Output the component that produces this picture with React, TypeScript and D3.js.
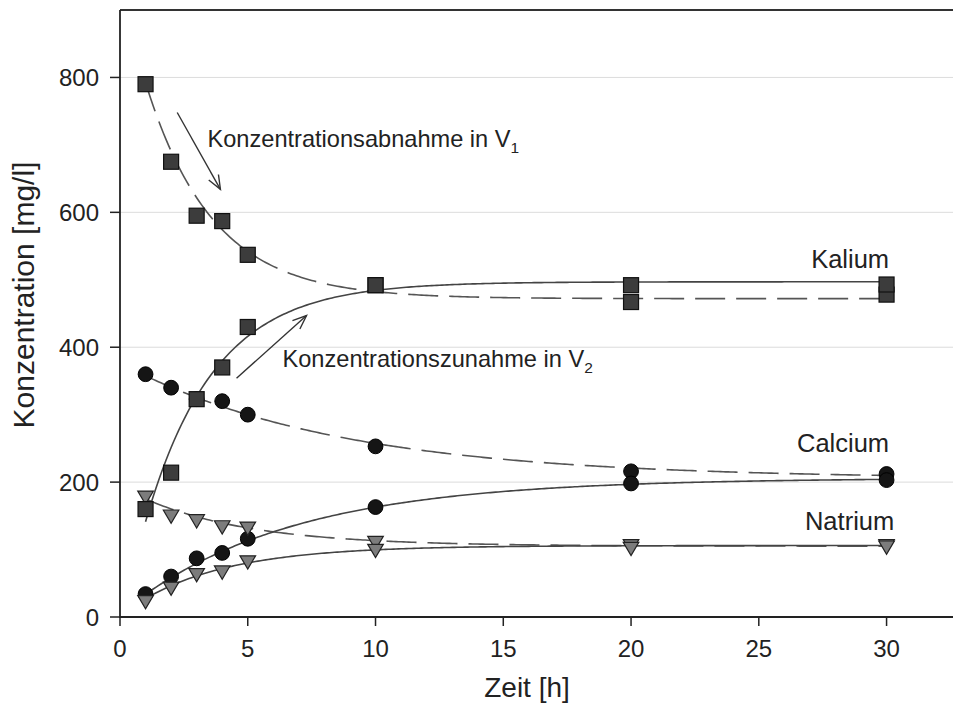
import React from "react";
import * as d3 from "d3";

// ---- Data ----
const times = [1, 2, 3, 4, 5, 10, 20, 30];
const kaliumV1 = [790, 675, 595, 587, 537, 492, 467, 478];
const kaliumV2 = [160, 214, 323, 370, 430, 492, 492, 493];
const calciumV1 = [360, 340, 323, 320, 300, 253, 216, 212];
const calciumV2 = [34, 60, 87, 95, 116, 163, 198, 203];
const natriumV1 = [178, 150, 143, 134, 132, 111, 106, 106];
const natriumV2 = [23, 43, 63, 67, 82, 99, 102, 104];

// Fitted exponential curves: [asymptote, amplitude, rate]  y = c + a*exp(-k t)
const kaliumFitV1 = [472, 468, 0.38];
const kaliumFitV2 = [497, -515, 0.37];
const calciumFitV1 = [205, 172, 0.119];
const calciumFitV2 = [206, -201, 0.154];
const natriumFitV1 = [105, 89, 0.238];
const natriumFitV2 = [106, -104, 0.278];
const fitRange = [1, 30];

const xTicks = [0, 5, 10, 15, 20, 25, 30];
const yTicks = [0, 200, 400, 600, 800];
const yGrid = [200, 400, 600, 800];

const seriesLabels = ["Kalium", "Calcium", "Natrium"];
const labelValues = [517, 245, 129];
const labelX = [30.1, 30.1, 30.3];

// annotation arrows in data coordinates: [x1, y1, x2, y2]
const arrowDown = [2.24, 748, 3.93, 634];
const arrowUp = [4.56, 354, 7.3, 447];

const FONT = "'Liberation Sans', Arial, Helvetica, sans-serif";

export default function App() {
  const W = 954;
  const H = 717;
  const x = d3.scaleLinear().domain([0, 32.6]).range([120, 953]);
  const y = d3.scaleLinear().domain([0, 900]).range([617, 10]);

  const samples = d3.range(fitRange[0], fitRange[1] + 0.001, 0.1);
  const fitLine = (p: number[]) =>
    d3
      .line<number>()
      .x((t) => x(t))
      .y((t) => y(p[0] + p[1] * Math.exp(-p[2] * t)))
      .curve(d3.curveLinear)(samples) as string;

  const solidStyle = { fill: "none", stroke: "#444", strokeWidth: 1.6 };
  const dashStyle = {
    fill: "none",
    stroke: "#555",
    strokeWidth: 1.6,
    strokeDasharray: "30 11",
  };

  const square = (vals: number[], key: string) =>
    vals.map((v, i) => (
      <rect
        key={key + i}
        x={x(times[i]) - 7.5}
        y={y(v) - 7.5}
        width={15}
        height={15}
        fill="#3c3c3c"
        stroke="#111"
        strokeWidth={1.2}
      />
    ));
  const circle = (vals: number[], key: string) =>
    vals.map((v, i) => (
      <circle key={key + i} cx={x(times[i])} cy={y(v)} r={7.4} fill="#151515" stroke="#000" strokeWidth={1} />
    ));
  const tri = (vals: number[], key: string) =>
    vals.map((v, i) => {
      const cx = x(times[i]);
      const cy = y(v);
      const s = 7.8;
      const pts = `${cx - s},${cy - s * 0.75} ${cx + s},${cy - s * 0.75} ${cx},${cy + s * 0.95}`;
      return <polygon key={key + i} points={pts} fill="#7c7c7c" stroke="#222" strokeWidth={1.2} />;
    });

  const arrow = (a: number[], key: string) => {
    const x1 = x(a[0]);
    const y1 = y(a[1]);
    const x2 = x(a[2]);
    const y2 = y(a[3]);
    const ang = Math.atan2(y2 - y1, x2 - x1);
    const L = 15;
    const spread = 0.38;
    const hx1 = x2 - L * Math.cos(ang - spread);
    const hy1 = y2 - L * Math.sin(ang - spread);
    const hx2 = x2 - L * Math.cos(ang + spread);
    const hy2 = y2 - L * Math.sin(ang + spread);
    return (
      <g key={key} stroke="#333" strokeWidth={1.4} fill="none">
        <line x1={x1} y1={y1} x2={x2} y2={y2} />
        <polyline points={`${hx1},${hy1} ${x2},${y2} ${hx2},${hy2}`} />
      </g>
    );
  };

  return (
    <div>
      <style>{`body{margin:0}`}</style>
      <svg width={W} height={H} style={{ display: "block", background: "#fff" }} fontFamily={FONT}>
        {/* grid */}
        {yGrid.map((v) => (
          <line key={"g" + v} x1={x(0)} x2={x(32.6)} y1={y(v)} y2={y(v)} stroke="#dcdcdc" strokeWidth={1} />
        ))}

        {/* fitted curves */}
        <path d={fitLine(kaliumFitV1)} style={dashStyle} />
        <path d={fitLine(calciumFitV1)} style={dashStyle} />
        <path d={fitLine(natriumFitV1)} style={dashStyle} />
        <path d={fitLine(kaliumFitV2)} style={solidStyle} />
        <path d={fitLine(calciumFitV2)} style={solidStyle} />
        <path d={fitLine(natriumFitV2)} style={solidStyle} />

        {/* markers */}
        {circle(calciumV1, "c1")}
        {circle(calciumV2, "c2")}
        {tri(natriumV1, "n1")}
        {tri(natriumV2, "n2")}
        {square(kaliumV1, "k1")}
        {square(kaliumV2, "k2")}

        {/* arrows */}
        {arrow(arrowDown, "a1")}
        {arrow(arrowUp, "a2")}

        {/* annotations */}
        <text x={207.5} y={147} fontSize={23.6} fill="#222">
          Konzentrationsabnahme in V
          <tspan fontSize={15.5} dy={6}>1</tspan>
        </text>
        <text x={282.5} y={367} fontSize={23.6} fill="#222">
          Konzentrationszunahme in V
          <tspan fontSize={15.5} dy={6}>2</tspan>
        </text>

        {/* series labels */}
        {seriesLabels.map((s, i) => (
          <text key={s} x={x(labelX[i])} y={y(labelValues[i])} fontSize={25.5} textAnchor="end" fill="#222">
            {s}
          </text>
        ))}

        {/* axes */}
        <line x1={x(0)} x2={x(32.6)} y1={y(0)} y2={y(0)} stroke="#222" strokeWidth={1.8} />
        <line x1={x(0)} x2={x(32.6)} y1={y(900)} y2={y(900)} stroke="#333" strokeWidth={1.8} />
        <line x1={x(0)} x2={x(0)} y1={y(0) + 1} y2={y(900)} stroke="#222" strokeWidth={1.8} />

        {xTicks.map((t) => (
          <g key={"xt" + t}>
            <line x1={x(t)} x2={x(t)} y1={y(0)} y2={y(0) + 9} stroke="#222" strokeWidth={1.5} />
            <text x={x(t)} y={657} fontSize={24} textAnchor="middle" fill="#222">
              {t}
            </text>
          </g>
        ))}
        {yTicks.map((v) => (
          <g key={"yt" + v}>
            <line x1={x(0) - 10} x2={x(0)} y1={y(v)} y2={y(v)} stroke="#222" strokeWidth={1.5} />
            <text x={99} y={y(v)} dy="0.36em" fontSize={24} textAnchor="end" fill="#222">
              {v}
            </text>
          </g>
        ))}

        {/* axis titles */}
        <text x={527} y={697} fontSize={28} textAnchor="middle" fill="#222">
          Zeit [h]
        </text>
        <text
          transform={`translate(34, 295) rotate(-90)`}
          fontSize={30}
          textAnchor="middle"
          fill="#222"
        >
          Konzentration [mg/l]
        </text>
      </svg>
    </div>
  );
}
